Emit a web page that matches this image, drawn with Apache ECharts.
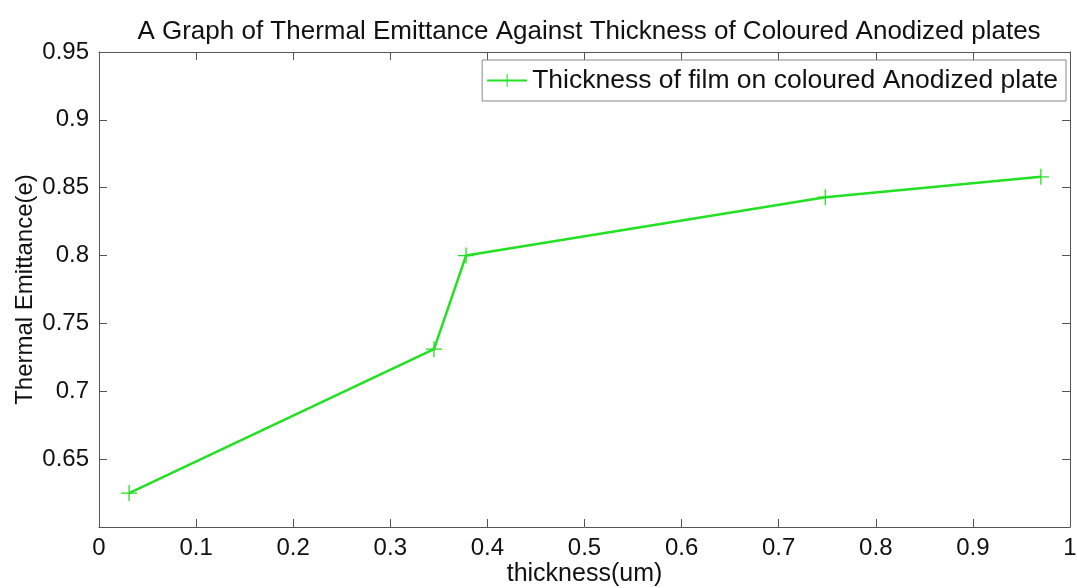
<!DOCTYPE html>
<html><head><meta charset="utf-8">
<script src="https://cdn.jsdelivr.net/npm/echarts@6/dist/echarts.min.js"></script>
<style>html,body{margin:0;padding:0;background:#fff}#c{width:1077px;height:588px}</style>
</head><body><div id="c"></div>
<script>
const thickness = [0.031, 0.345, 0.378, 0.748, 0.970];
const emittance = [0.625, 0.731, 0.800, 0.843, 0.858];
const seriesName = 'Thickness of film on coloured Anodized plate';
const titleText = 'A Graph of Thermal Emittance Against Thickness of Coloured Anodized plates';
const xName = 'thickness(um)';
const yName = 'Thermal Emittance(e)';

const font = 'Liberation Sans, Arial, sans-serif';
const green = '#22e022';
const plus = 'path://M4.6,0 H5.4 V4.6 H10 V5.4 H5.4 V10 H4.6 V5.4 H0 V4.6 H4.6 Z';
const chart = echarts.init(document.getElementById('c'));
const boxAxis = {
  axisLine: {show: true, onZero: false, lineStyle: {color: '#555', width: 1}},
  axisTick: {show: true, inside: true, length: 8, lineStyle: {color: '#555'}},
  splitLine: {show: false}
};
chart.setOption({
  animation: false,
  title: {text: titleText, left: 584, top: 14, textAlign: 'center',
    textStyle: {fontFamily: font, fontSize: 26, fontWeight: 'normal', color: '#111'}},
  grid: {left: 99, right: 7, top: 52, bottom: 61, outerBoundsMode: 'none', containLabel: false},
  legend: {data: [seriesName], right: 11, top: 60, orient: 'horizontal',
    itemWidth: 40, itemHeight: 16, itemGap: 5,
    borderColor: '#888', borderWidth: 1, padding: [7, 8, 7, 4],
    textStyle: {fontFamily: font, fontSize: 26.5, color: '#111'}},
  xAxis: [
    Object.assign({type: 'value', min: 0, max: 1, interval: 0.1, position: 'bottom',
      name: xName, nameLocation: 'middle', nameGap: 35, nameMoveOverlap: false,
      nameTextStyle: {fontFamily: font, fontSize: 25, color: '#111'},
      axisLabel: {fontFamily: font, fontSize: 24, color: '#111', margin: 9,
        formatter: v => String(Math.round(v * 10) / 10)}}, boxAxis),
    Object.assign({type: 'value', min: 0, max: 1, interval: 0.1, position: 'top',
      axisLabel: {show: false}}, boxAxis)
  ],
  yAxis: [
    Object.assign({type: 'value', min: 0.6, max: 0.95, interval: 0.05, position: 'left',
      name: yName, nameLocation: 'middle', nameGap: 62, nameRotate: 90, nameMoveOverlap: false,
      nameTextStyle: {fontFamily: font, fontSize: 24, color: '#111'},
      axisLabel: {fontFamily: font, fontSize: 24, color: '#111', margin: 10,
        formatter: v => Math.abs(v - 0.6) < 1e-9 ? '' : String(Math.round(v * 100) / 100)}}, boxAxis),
    Object.assign({type: 'value', min: 0.6, max: 0.95, interval: 0.05, position: 'right',
      axisLabel: {show: false}}, boxAxis)
  ],
  series: [{
    name: seriesName, type: 'line',
    data: thickness.map((x, i) => [x, emittance[i]]),
    symbol: plus, symbolSize: 16, showAllSymbol: true,
    lineStyle: {color: green, width: 2.5},
    itemStyle: {color: green}
  }]
});
</script></body></html>
